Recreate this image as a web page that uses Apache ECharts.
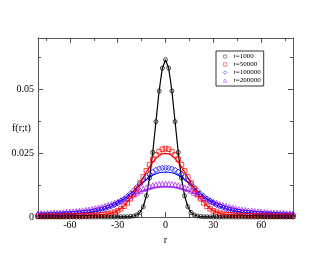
<!DOCTYPE html>
<html><head><meta charset="utf-8">
<script src="https://cdn.jsdelivr.net/npm/echarts@6/dist/echarts.min.js"></script>
<style>html,body{margin:0;padding:0;background:#fff}#c{width:330px;height:255px}</style>
</head><body><div id="c"></div>
<script>
const rVals = [-80,-78,-76,-74,-72,-70,-68,-66,-64,-62,-60,-58,-56,-54,-52,-50,-48,-46,-44,-42,-40,-38,-36,-34,-32,-30,-28,-26,-24,-22,-20,-18,-16,-14,-12,-10,-8,-6,-4,-2,0,2,4,6,8,10,12,14,16,18,20,22,24,26,28,30,32,34,36,38,40,42,44,46,48,50,52,54,56,58,60,62,64,66,68,70,72,74,76,78,80];

const seriesNames = ["t=1000","t=50000","t=100000","t=200000"];

const sim1000 = [0,0,0,0,0,0,0,0,0,0,0,0,0,0,0,0,0,0,0,0,0,0,0,0,0,0,
0.0001,0.0001,0.0001,0.0002,0.0004,0.0008,0.0018,0.0040,0.0083,0.0153,0.0253,0.0373,0.0493,0.0582,
0.0615,
0.0582,0.0493,0.0373,0.0253,0.0153,0.0083,0.0040,0.0018,0.0008,0.0004,0.0002,0.0001,0.0001,0.0001,
0,0,0,0,0,0,0,0,0,0,0,0,0,0,0,0,0,0,0,0,0,0,0,0,0,0];
const th1000 = sim1000;

const sim50000 = [0.0003,0.0003,0.0003,0.0003,0.0003,0.0003,0.0003,0.0003,0.0004,0.0004,0.0004,0.0004,0.0005,0.0005,0.0005,0.0006,0.0006,0.0007,0.0007,0.0008,0.0009,0.0010,0.0012,0.0015,0.0019,0.0024,0.0032,0.0042,0.0055,0.0071,0.0090,0.0110,0.0133,0.0157,0.0181,0.0204,0.0225,0.0243,0.0256,0.0265,
0.0268,
0.0265,0.0256,0.0243,0.0225,0.0204,0.0181,0.0157,0.0133,0.0110,0.0090,0.0071,0.0055,0.0042,0.0032,0.0024,0.0019,0.0015,0.0012,0.0010,0.0009,0.0008,0.0007,0.0007,0.0006,0.0006,0.0005,0.0005,0.0005,0.0004,0.0004,0.0004,0.0004,0.0003,0.0003,0.0003,0.0003,0.0003,0.0003,0.0003,0.0003];
const th50000 = [0.0003,0.0003,0.0003,0.0003,0.0003,0.0003,0.0003,0.0003,0.0004,0.0004,0.0004,0.0004,0.0005,0.0005,0.0005,0.0006,0.0006,0.0007,0.0007,0.0008,0.0009,0.0010,0.0012,0.0015,0.0019,0.0025,0.0033,0.0044,0.0057,0.0073,0.0091,0.0111,0.0132,0.0154,0.0176,0.0196,0.0214,0.0229,0.0240,0.0247,
0.0249,
0.0247,0.0240,0.0229,0.0214,0.0196,0.0176,0.0154,0.0132,0.0111,0.0091,0.0073,0.0057,0.0044,0.0033,0.0025,0.0019,0.0015,0.0012,0.0010,0.0009,0.0008,0.0007,0.0007,0.0006,0.0006,0.0005,0.0005,0.0005,0.0004,0.0004,0.0004,0.0004,0.0003,0.0003,0.0003,0.0003,0.0003,0.0003,0.0003,0.0003];

const sim100000 = [0.0009,0.0009,0.0009,0.0010,0.0010,0.0010,0.0011,0.0011,0.0012,0.0012,0.0013,0.0013,0.0014,0.0015,0.0016,0.0017,0.0018,0.0020,0.0022,0.0025,0.0028,0.0032,0.0037,0.0042,0.0048,0.0055,0.0063,0.0071,0.0081,0.0091,0.0103,0.0116,0.0129,0.0143,0.0156,0.0168,0.0177,0.0184,0.0189,0.0192,
0.0193,
0.0192,0.0189,0.0184,0.0177,0.0168,0.0156,0.0143,0.0129,0.0116,0.0103,0.0091,0.0081,0.0071,0.0063,0.0055,0.0048,0.0042,0.0037,0.0032,0.0028,0.0025,0.0022,0.0020,0.0018,0.0017,0.0016,0.0015,0.0014,0.0013,0.0013,0.0012,0.0012,0.0011,0.0011,0.0010,0.0010,0.0010,0.0009,0.0009,0.0009];
const th100000 = [0.0009,0.0009,0.0009,0.0010,0.0010,0.0010,0.0011,0.0011,0.0012,0.0012,0.0013,0.0013,0.0014,0.0015,0.0016,0.0017,0.0018,0.0020,0.0022,0.0025,0.0028,0.0032,0.0037,0.0042,0.0048,0.0055,0.0063,0.0071,0.0081,0.0092,0.0103,0.0115,0.0126,0.0137,0.0147,0.0156,0.0163,0.0169,0.0173,0.0175,
0.0176,
0.0175,0.0173,0.0169,0.0163,0.0156,0.0147,0.0137,0.0126,0.0115,0.0103,0.0092,0.0081,0.0071,0.0063,0.0055,0.0048,0.0042,0.0037,0.0032,0.0028,0.0025,0.0022,0.0020,0.0018,0.0017,0.0016,0.0015,0.0014,0.0013,0.0013,0.0012,0.0012,0.0011,0.0011,0.0010,0.0010,0.0010,0.0009,0.0009,0.0009];

const sim200000 = [0.0013,0.0014,0.0014,0.0015,0.0015,0.0016,0.0016,0.0017,0.0018,0.0019,0.0020,0.0021,0.0022,0.0024,0.0025,0.0027,0.0028,0.0030,0.0033,0.0036,0.0039,0.0042,0.0046,0.0050,0.0055,0.0060,0.0065,0.0070,0.0076,0.0082,0.0089,0.0096,0.0103,0.0110,0.0115,0.0119,0.0123,0.0126,0.0128,0.0129,
0.0129,
0.0129,0.0128,0.0126,0.0123,0.0119,0.0115,0.0110,0.0103,0.0096,0.0089,0.0082,0.0076,0.0070,0.0065,0.0060,0.0055,0.0050,0.0046,0.0042,0.0039,0.0036,0.0033,0.0030,0.0028,0.0027,0.0025,0.0024,0.0022,0.0021,0.0020,0.0019,0.0018,0.0017,0.0016,0.0016,0.0015,0.0015,0.0014,0.0014,0.0013];
const th200000 = [0.0013,0.0014,0.0014,0.0015,0.0015,0.0016,0.0016,0.0017,0.0018,0.0019,0.0020,0.0021,0.0022,0.0024,0.0025,0.0027,0.0028,0.0030,0.0033,0.0036,0.0039,0.0042,0.0046,0.0050,0.0055,0.0060,0.0065,0.0070,0.0076,0.0081,0.0087,0.0093,0.0098,0.0103,0.0107,0.0111,0.0114,0.0116,0.0117,0.0118,
0.0118,
0.0118,0.0117,0.0116,0.0114,0.0111,0.0107,0.0103,0.0098,0.0093,0.0087,0.0081,0.0076,0.0070,0.0065,0.0060,0.0055,0.0050,0.0046,0.0042,0.0039,0.0036,0.0033,0.0030,0.0028,0.0027,0.0025,0.0024,0.0022,0.0021,0.0020,0.0019,0.0018,0.0017,0.0016,0.0016,0.0015,0.0015,0.0014,0.0014,0.0013];

const xMajorTicks = [-60,-30,0,30,60];
const xMinorTicks = [-75,-45,-15,15,45,75];
const yMajorTicks = [0,0.025,0.05];
const yMinorTicks = [0.0125,0.0375,0.0625];

const colors = ['#000000','#ff0000','#0000ff','#a020f0'];
const symbols = ['circle','rect','diamond','triangle'];
const symSizes = [4,4.5,5.5,5.5];
const sims = [sim1000,sim50000,sim100000,sim200000];
const ths = [th1000,th50000,th100000,th200000];

const FONT = 'Liberation Serif';
const axisCol = '#555';
const pair = arr => rVals.map((r,i)=>[r,arr[i]]);

function xAx(pos, ticks, len, labels, showLine){
  return {type:'value', min:-80, max:80, position:pos,
    axisLine:{show:showLine, onZero:false, lineStyle:{color:axisCol,width:1}},
    axisTick:{show:true, inside:true, length:len, customValues:ticks, lineStyle:{color:axisCol,width:1}},
    axisLabel:{show:labels, customValues:ticks, margin:3, fontFamily:FONT, fontSize:10, color:'#000',
      formatter:v=>String(v)},
    splitLine:{show:false}};
}
function yAx(pos, ticks, len, labels, showLine){
  return {type:'value', min:0, max:0.07, position:pos,
    axisLine:{show:showLine, onZero:false, lineStyle:{color:axisCol,width:1}},
    axisTick:{show:true, inside:true, length:len, customValues:ticks, lineStyle:{color:axisCol,width:1}},
    axisLabel:{show:labels, customValues:ticks, margin:4, fontFamily:FONT, fontSize:10, color:'#000',
      formatter:v=>String(v)},
    splitLine:{show:false}};
}

const xAxes = [xAx('bottom',xMajorTicks,5,true,true), xAx('bottom',xMinorTicks,3,false,false),
               xAx('top',xMajorTicks,5,false,true), xAx('top',xMinorTicks,3,false,false)];
xAxes[0].name = 'r'; xAxes[0].nameLocation='middle'; xAxes[0].nameGap=11;
xAxes[0].nameTextStyle = {fontFamily:FONT,fontSize:10,color:'#000'};
const yAxes = [yAx('left',yMajorTicks,5,true,true), yAx('left',yMinorTicks,3,false,false),
               yAx('right',yMajorTicks,5,false,true), yAx('right',yMinorTicks,3,false,false)];

const series = [];
for (let k=3;k>=0;k--){
  series.push({type:'line', name:'theory '+seriesNames[k], data:pair(ths[k]), showSymbol:false, symbol:'none',
    lineStyle:{color:colors[k], width:1.2}, itemStyle:{color:colors[k]}, silent:true, animation:false, z:2});
  series.push({type:'scatter', name:seriesNames[k], data:pair(sims[k]), symbol:symbols[k], symbolSize:symSizes[k],
    itemStyle:{color:'rgba(0,0,0,0)', borderColor:colors[k], borderWidth:0.9}, animation:false, z:3});
}

const chart = echarts.init(document.getElementById('c'), null, {renderer:'canvas'});
chart.setOption({
  backgroundColor:'#fff',
  animation:false,
  grid:{left:38, right:37, top:38, bottom:38, containLabel:false},
  xAxis:xAxes, yAxis:yAxes,
  legend:{data:seriesNames, orient:'vertical', left:216, top:51, padding:[2,3,2,7], itemGap:1,
    itemWidth:3.5, itemHeight:3.5, borderColor:'#000', borderWidth:0.8,
    itemStyle:{borderWidth:0.6},
    textStyle:{fontFamily:FONT, fontSize:7, lineHeight:6.5, color:'#000', padding:[0,0,0,2]}},
  graphic:[{type:'text', left:12, top:123, style:{text:'f(r;t)', font:'10px "Liberation Serif"', fill:'#000'}}],
  series:series
});
</script></body></html>
